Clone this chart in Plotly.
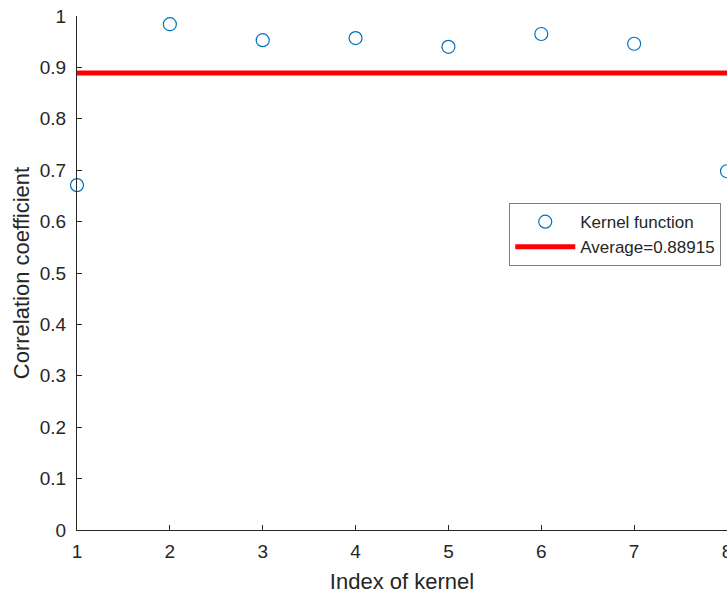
import plotly.graph_objects as go

kernel_index = [1, 2, 3, 4, 5, 6, 7, 8]
corr_coef = [0.671, 0.984, 0.953, 0.957, 0.940, 0.965, 0.946, 0.698]
average_value = 0.88915
x_ticks = [1, 2, 3, 4, 5, 6, 7, 8]
y_ticks = [0, 0.1, 0.2, 0.3, 0.4, 0.5, 0.6, 0.7, 0.8, 0.9, 1]
y_tick_labels = ["0", "0.1", "0.2", "0.3", "0.4", "0.5", "0.6", "0.7", "0.8", "0.9", "1"]

FONT = "Liberation Sans, Arial, Helvetica"
TXT = "#262626"

fig = go.Figure()
fig.add_trace(go.Scatter(
    x=kernel_index, y=corr_coef, mode="markers", name="Kernel function",
    marker=dict(symbol="circle-open", size=13, color="#0072BD", line=dict(width=1.2)),
    cliponaxis=False,
))
fig.add_trace(go.Scatter(
    x=[kernel_index[0], kernel_index[-1]], y=[average_value, average_value],
    mode="lines", name="Average=0.88915",
    line=dict(color="#FF0000", width=5),
))

axis_common = dict(
    showline=True, linecolor=TXT, linewidth=1,
    ticks="inside", ticklen=5, tickcolor=TXT,
    showgrid=False, zeroline=False, mirror=False, automargin=False,
    ticklabeloverflow="allow",
    tickfont=dict(family=FONT, size=19, color=TXT),
)
fig.update_xaxes(range=[1, 8], tickvals=x_ticks, ticklabelstandoff=4,
                 title=dict(text="Index of kernel", font=dict(family=FONT, size=22, color=TXT), standoff=12),
                 **axis_common)
fig.update_yaxes(range=[0, 1], tickvals=y_ticks, ticktext=y_tick_labels, ticklabelstandoff=6,
                 title=dict(text="Correlation coefficient", font=dict(family=FONT, size=22, color=TXT), standoff=4),
                 **axis_common)

fig.update_layout(
    width=727, height=594,
    margin=dict(l=77, r=0, t=16, b=64, autoexpand=False),
    paper_bgcolor="white", plot_bgcolor="white",
    legend=dict(x=0.665, y=0.636, xanchor="left", yanchor="top",
                bordercolor="#7F7F7F", borderwidth=1, bgcolor="white",
                font=dict(family=FONT, size=17, color=TXT),
                tracegroupgap=0, itemwidth=60),
    showlegend=True,
)

fig.write_html("out.html", config={"displayModeBar": False},
               post_script="document.body.style.margin='0';document.body.style.overflow='hidden';")
